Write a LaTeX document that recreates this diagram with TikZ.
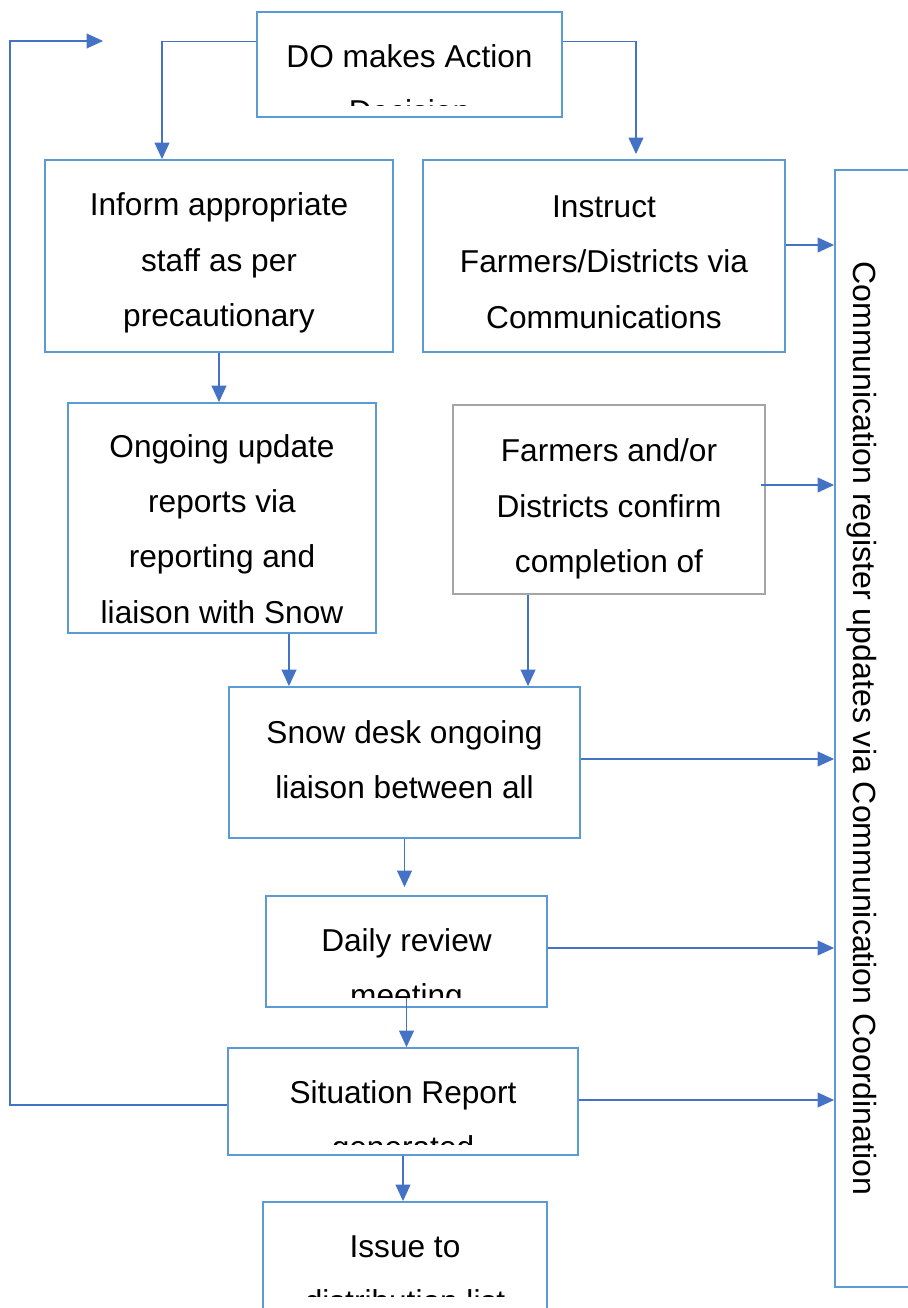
\documentclass[tikz,border=0pt]{standalone}
\usepackage{fontspec}
\setmainfont{Liberation Sans}
\usetikzlibrary{arrows.meta,calc}
\definecolor{boxblue}{HTML}{5B9BD5}
\definecolor{arrowblue}{HTML}{4472C4}
\definecolor{boxgray}{HTML}{A5A5A5}
\tikzset{
    flow box/.style={
        draw=boxblue,line width=1.1pt,
        inner sep=0pt
    },
    box text/.style={
        align=center,inner sep=0pt,
        font=\fontsize{18}{31.5}\selectfont
    },
    flow/.style={
        draw=arrowblue,line width=.6pt,
        -{Triangle[length=.33cm,width=.3cm]}
    }
}
\begin{document}
\begin{tikzpicture}[x=.02cm,y=-.02cm]
    \useasboundingbox (0,0) rectangle (907,1308);
    % boxes
    \node[flow box,minimum width=6.1cm,minimum height=2.1cm] (decision) at (409.5,64.5) {};
    \node[flow box,minimum width=6.96cm,minimum height=3.84cm] (inform) at (219,256) {};
    \node[flow box,minimum width=7.24cm,minimum height=3.84cm] (instruct) at (604,256) {};
    \node[flow box,minimum width=1.8cm,minimum height=22.34cm] (comm) at (880,728.5) {};
    \node[flow box,minimum width=6.16cm,minimum height=4.6cm] (ongoing) at (222,518) {};
    \node[flow box,draw=boxgray,minimum width=6.24cm,minimum height=3.78cm] (farmers) at (609,499.5) {};
    \node[flow box,minimum width=7.02cm,minimum height=3.02cm] (snow) at (404.5,762.5) {};
    \node[flow box,minimum width=5.62cm,minimum height=2.22cm] (daily) at (406.5,951.5) {};
    \node[flow box,minimum width=7cm,minimum height=2.14cm] (situation) at (403,1101.5) {};
    \node[flow box,minimum width=5.68cm,minimum height=2.56cm] (issue) at (405,1266) {};
    % texts
    \node[box text] (informtext) at (219,263) {Inform appropriate\\staff as per\\precautionary};
    \node[box text] (instructtext) at (604,262) {Instruct\\Farmers/Districts via\\Communications};
    \node[box text] (ongoingtext) at (222,529) {Ongoing update\\reports via\\reporting and\\liaison with Snow};
    \node[box text] (farmerstext) at (609,509) {Farmers and/or\\Districts confirm\\completion of};
    \node[box text] (snowtext) at (404.5,760) {Snow desk ongoing\\liaison between all};
    \node[box text,rotate=-90,anchor=base,font=\fontsize{18.25}{31.5}\selectfont] (commtext) at (853,728.5)
        {Communication register updates via Communication Coordination};
    % texts cut off at the bottom of their boxes
    \begin{scope}
        \clip (decision.north west) rectangle ($(decision.south east)+(0,-12)$);
        \node[box text] (decisiontext) at (409.5,84) {DO makes Action\\Decision};
    \end{scope}
    \begin{scope}
        \clip (daily.north west) rectangle ($(daily.south east)+(0,-10)$);
        \node[box text] (dailytext) at (406.5,971) {Daily review\\meeting};
    \end{scope}
    \begin{scope}
        \clip (situation.north west) rectangle ($(situation.south east)+(0,-11)$);
        \node[box text] (situationtext) at (403,1123) {Situation Report\\generated};
    \end{scope}
    \begin{scope}
        \clip (issue.north west) rectangle ($(issue.north east)+(0,95)$);
        \node[box text] (issuetext) at (405,1274) {Issue to\\distribution list};
    \end{scope}
    % connectors
    \draw[flow] ([yshift=-.6cm]decision.north west) -| ([xshift=-1.14cm]inform.north);
    \draw[flow] ([yshift=-.6cm]decision.north east) -| ([xshift=.64cm,yshift=.1cm]instruct.north);
    \draw[flow] ([yshift=.22cm]instruct.east) coordinate (instructout) -- (instructout -| comm.west);
    \draw[flow] ([xshift=-.1cm,yshift=.29cm]farmers.east) coordinate (farmersout) -- (farmersout -| comm.west);
    \draw[flow] (inform.south) -- (inform.south |- ongoing.north);
    \draw[flow] ([xshift=1.34cm]ongoing.south) coordinate (ongoingout) -- (ongoingout |- snow.north);
    \draw[flow] ([xshift=-1.62cm]farmers.south) coordinate (farmersdown) -- (farmersdown |- snow.north);
    \draw[flow] ([yshift=.07cm]snow.east) coordinate (snowout) -- (snowout -| comm.west);
    \draw[flow] (snow.south) -- ($(snow.south |- daily.north)+(0,-8)$);
    \draw[flow] ([yshift=.07cm]daily.east) coordinate (dailyout) -- (dailyout -| comm.west);
    \draw[flow] ([yshift=.2cm]daily.south) coordinate (dailydown) -- (dailydown |- situation.north);
    \draw[flow] ([yshift=.03cm]situation.east) coordinate (situationout) -- (situationout -| comm.west);
    \coordinate (loopend) at (103,41);
    \draw[flow] ([yshift=-.07cm]situation.west) -| ([xshift=-1.86cm]loopend) -- (loopend);
    \draw[flow] (situation.south) -- (situation.south |- issue.north);
\end{tikzpicture}
\end{document}
